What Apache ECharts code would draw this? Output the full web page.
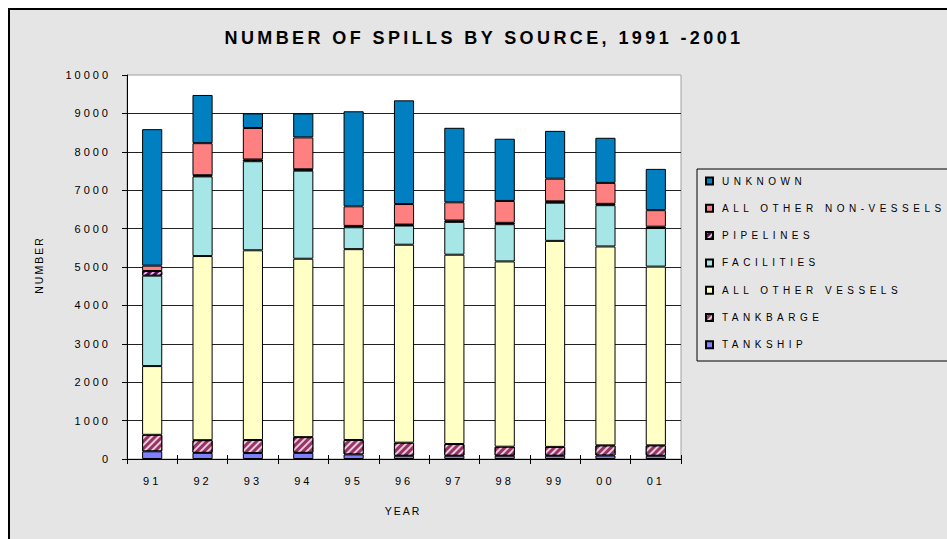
<!DOCTYPE html>
<html>
<head>
<meta charset="utf-8">
<script src="https://cdn.jsdelivr.net/npm/echarts@6/dist/echarts.min.js"></script>
<style>
  html, body { margin: 0; padding: 0; background: #fff; overflow: hidden; }
  #panel { position: absolute; left: 8px; top: 8px; width: 1000px; height: 600px;
           background: #e5e5e5; border: 2px solid #000; box-sizing: border-box; }
  #chart { position: absolute; left: 0; top: 0; width: 947px; height: 539px; }
</style>
</head>
<body>
<div id="panel"></div>
<div id="chart"></div>
<script>
// Spill counts per year, by source (stacked bottom to top)
const years = ['91', '92', '93', '94', '95', '96', '97', '98', '99', '00', '01'];
const tankship        = [200, 160, 155, 160, 120,  85,  85,  85,  85,  90,  85];
const tankbarge       = [430, 330, 340, 410, 375, 340, 305, 235, 230, 265, 270];
const allOtherVessels = [1790, 4795, 4940, 4645, 4970, 5155, 4930, 4825, 5365, 5180, 4655];
const facilities      = [2355, 2075, 2320, 2295, 570, 500, 855, 970, 995, 1075, 1005];
const pipelines       = [120, 30, 45, 35, 35, 25, 35, 35, 35, 35, 35];
const nonVessels      = [140, 835, 820, 830, 510, 535, 475, 570, 590, 545, 430];
const unknown         = [3555, 1255, 380, 625, 2475, 2700, 1940, 1620, 1245, 1175, 1075];

const yTicks = { min: 0, max: 10000, step: 1000 };

const FONT = '"Liberation Sans", Arial, sans-serif';

function stripes(color) {
  return {
    color: color,
    symbol: 'rect',
    symbolSize: 1,
    dashArrayX: [[1, 0]],
    dashArrayY: [2, 3],
    rotation: -Math.PI / 4
  };
}

const seriesDefs = [
  { name: 'TANKSHIP',              data: tankship,        color: '#8080ff' },
  { name: 'TANKBARGE',             data: tankbarge,       color: '#993366', decal: stripes('rgba(255,255,255,0.75)') },
  { name: 'ALL OTHER VESSELS',     data: allOtherVessels, color: '#ffffc6' },
  { name: 'FACILITIES',            data: facilities,      color: '#a6e6e6' },
  { name: 'PIPELINES',             data: pipelines,       color: '#660066', decal: stripes('rgba(255,255,255,0.75)') },
  { name: 'ALL OTHER NON-VESSELS', data: nonVessels,      color: '#ff8080' },
  { name: 'UNKNOWN',               data: unknown,         color: '#0080c0' }
];

const chart = echarts.init(document.getElementById('chart'), null, { renderer: 'svg' });

chart.setOption({
  animation: false,
  backgroundColor: 'transparent',
  textStyle: { fontFamily: FONT },
  grid: {
    left: 127, right: 266, top: 75, bottom: 80,
    show: true, backgroundColor: '#fff', borderColor: '#a0a0a0', borderWidth: 1
  },
  legend: {
    orient: 'vertical',
    left: 705,
    top: 175,
    padding: 0,
    itemWidth: 7,
    itemHeight: 7,
    itemGap: 15.3,
    icon: 'rect',
    textStyle: { fontSize: 10, color: '#000', fontFamily: FONT, lineHeight: 12, padding: [0, 0, 0, 4] },
    data: seriesDefs.map(s => s.name).reverse()
  },
  xAxis: [
    {
      type: 'category',
      data: years,
      axisLine: { lineStyle: { color: '#000', width: 1 } },
      axisTick: { show: true, length: 5, lineStyle: { color: '#000' } },
      axisLabel: { color: '#000', fontSize: 11, margin: 16, fontFamily: FONT },
      splitLine: { show: false }
    },
    {
      type: 'category',
      data: years,
      position: 'bottom',
      axisLine: { show: false },
      axisTick: { show: true, inside: true, length: 4, lineStyle: { color: '#000' } },
      axisLabel: { show: false },
      splitLine: { show: false }
    }
  ],
  yAxis: {
    type: 'value',
    min: yTicks.min,
    max: yTicks.max,
    interval: yTicks.step,
    axisLine: { show: true, lineStyle: { color: '#000', width: 1 } },
    axisTick: { show: true, length: 5, lineStyle: { color: '#000' } },
    axisLabel: { color: '#000', fontSize: 11, margin: 16, fontFamily: FONT, formatter: v => String(v) },
    splitLine: { show: true, showMaxLine: false, lineStyle: { color: '#222', width: 1 } }
  },
  series: seriesDefs.map(s => ({
    type: 'bar',
    name: s.name,
    stack: 'spills',
    data: s.data,
    barWidth: '40%',
    xAxisIndex: 0,
    itemStyle: Object.assign(
      { color: s.color, borderColor: '#000', borderWidth: 1 },
      s.decal ? { decal: s.decal } : {}
    )
  })),
  graphic: [
    {
      type: 'rect',
      shape: { x: 697, y: 169, width: 300, height: 192 },
      style: { fill: 'transparent', stroke: '#000', lineWidth: 1 }
    },
    {
      type: 'text',
      x: 484, y: 38,
      style: {
        text: 'NUMBER OF SPILLS BY SOURCE, 1991 -2001',
        fontSize: 18, fontWeight: 'bold', fontFamily: FONT, fill: '#000',
        align: 'center', verticalAlign: 'middle'
      }
    },
    {
      type: 'text',
      x: 39, y: 265,
      rotation: Math.PI / 2,
      style: {
        text: 'NUMBER', fontSize: 10.5, fontFamily: FONT, fill: '#000',
        align: 'center', verticalAlign: 'middle'
      }
    },
    {
      type: 'text',
      x: 403, y: 511,
      style: {
        text: 'YEAR', fontSize: 10.5, fontFamily: FONT, fill: '#000',
        align: 'center', verticalAlign: 'middle'
      }
    }
  ]
});

// Wide tracking on the chart lettering, set per font size
function spaceLetters() {
  document.querySelectorAll('#chart text').forEach(t => {
    const fs = parseFloat(getComputedStyle(t).fontSize);
    let ls = 3;
    if (fs >= 15) ls = 3.4;
    else if (fs < 10.3) ls = 4.5;
    else if (fs < 10.9) ls = 2;
    t.style.letterSpacing = ls + 'px';
  });
}
spaceLetters();
chart.on('finished', spaceLetters);
</script>
</body>
</html>
